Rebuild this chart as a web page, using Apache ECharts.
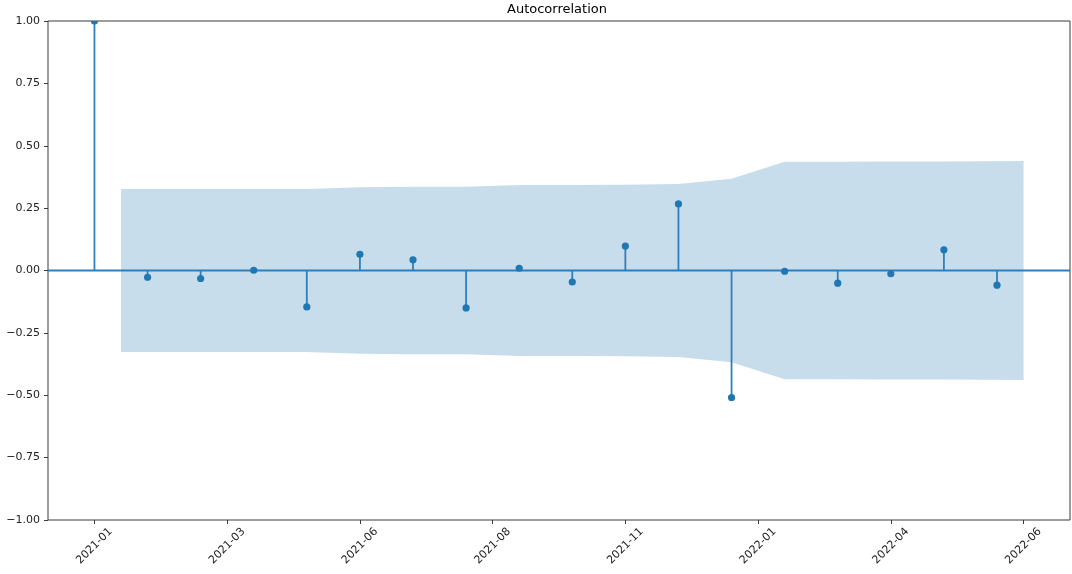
<!DOCTYPE html>
<html>
<head>
<meta charset="utf-8">
<script src="https://cdn.jsdelivr.net/npm/echarts@6/dist/echarts.min.js"></script>
<style>
  html, body { margin: 0; padding: 0; background: #fff; }
  #chart { width: 1072px; height: 574px; }
</style>
</head>
<body>
<div id="chart"></div>
<script>
// Autocorrelation values by lag
const lags = [0, 1, 2, 3, 4, 5, 6, 7, 8, 9, 10, 11, 12, 13, 14, 15, 16, 17];
const acfValues = [1.0, -0.027, -0.032, 0.001, -0.146, 0.065, 0.043, -0.150, 0.009, -0.046,
                   0.098, 0.267, -0.509, -0.003, -0.051, -0.013, 0.083, -0.059];

// Confidence band (upper edge; lower edge is its mirror)
const bandX = [0.5, 2, 3, 4, 5, 6, 7, 8, 9, 10, 11, 12, 13, 14, 15, 16, 17.5];
const bandUpper = [0.327, 0.327, 0.327, 0.327, 0.334, 0.336, 0.336, 0.343, 0.343, 0.344,
                   0.347, 0.368, 0.436, 0.436, 0.437, 0.437, 0.439];
const bandLower = [-0.327, -0.327, -0.327, -0.327, -0.334, -0.336, -0.336, -0.343, -0.343, -0.344,
                   -0.347, -0.368, -0.436, -0.436, -0.437, -0.437, -0.439];

// X tick positions and their labels
const xTickPositions = [0, 2.5, 5, 7.5, 10, 12.5, 15, 17.5];
const xTickLabels = ['2021-01', '2021-03', '2021-06', '2021-08', '2021-11', '2022-01', '2022-04', '2022-06'];

const X_MIN = -0.875, X_MAX = 18.375;
const BLUE = '#1f77b4';
const STEM = '#2f7fbb';
const FONT = 'DejaVu Sans';

const chart = echarts.init(document.getElementById('chart'), null, { renderer: 'canvas' });

const stemData = lags.map((l, i) => [l, acfValues[i]]);
const upperData = bandX.map((x, i) => [x, bandUpper[i]]);
const lowerData = bandX.map((x, i) => [x, bandLower[i]]);

chart.setOption({
  animation: false,
  backgroundColor: '#fff',
  title: {
    text: 'Autocorrelation',
    left: 507,
    top: 3,
    padding: 0,
    textStyle: { fontFamily: FONT, fontSize: 13, fontWeight: 'normal', color: '#000' }
  },
  grid: {
    left: 48, right: 2, top: 21, bottom: 54,
    show: true, borderColor: '#3a3a3a', borderWidth: 1, backgroundColor: 'transparent'
  },
  xAxis: {
    type: 'value',
    min: X_MIN, max: X_MAX,
    axisLine: { show: false, onZero: false },
    splitLine: { show: false },
    axisTick: {
      show: true, length: 4, inside: false,
      lineStyle: { color: '#3a3a3a', width: 1 },
      customValues: xTickPositions
    },
    axisLabel: {
      customValues: xTickPositions,
      rotate: 45,
      align: 'center',
      verticalAlign: 'middle',
      margin: 26,
      fontFamily: FONT, fontSize: 11, color: '#222',
      formatter: (v) => {
        const idx = xTickPositions.findIndex(p => Math.abs(p - v) < 1e-6);
        return idx >= 0 ? xTickLabels[idx] : '';
      }
    }
  },
  yAxis: {
    type: 'value',
    min: -1, max: 1, interval: 0.25,
    axisLine: { show: false, onZero: false },
    splitLine: { show: false },
    axisTick: { show: true, length: 4, inside: false, lineStyle: { color: '#3a3a3a', width: 1 } },
    axisLabel: {
      margin: 8,
      fontFamily: FONT, fontSize: 11, color: '#222',
      formatter: (v) => (v < 0 ? '\u2212' : '') + Math.abs(v).toFixed(2)
    }
  },
  series: [
    {
      // upper half of the confidence band, filled down to zero
      type: 'line',
      data: upperData,
      showSymbol: false,
      lineStyle: { width: 0 },
      areaStyle: { color: 'rgba(31,119,180,0.25)', opacity: 1 },
      z: 1,
      silent: true
    },
    {
      // lower half of the confidence band, filled up to zero
      type: 'line',
      data: lowerData,
      showSymbol: false,
      lineStyle: { width: 0 },
      areaStyle: { color: 'rgba(31,119,180,0.25)', opacity: 1 },
      z: 1,
      silent: true
    },
    {
      // horizontal line at zero
      type: 'line',
      data: [[X_MIN, 0], [X_MAX, 0]],
      showSymbol: false,
      lineStyle: { color: STEM, width: 2 },
      z: 2,
      silent: true
    },
    {
      // stems from zero to each value, with a marker at the tip (clipped to the plot)
      type: 'custom',
      data: stemData,
      z: 3,
      renderItem: (params, api) => {
        const x = api.value(0), y = api.value(1);
        const p0 = api.coord([x, 0]);
        const p1 = api.coord([x, y]);
        const cs = params.coordSys;
        return {
          type: 'group',
          clipPath: { type: 'rect', shape: { x: cs.x, y: cs.y, width: cs.width, height: cs.height } },
          children: [
            {
              type: 'line',
              shape: { x1: p0[0], y1: p0[1], x2: p1[0], y2: p1[1] },
              style: { stroke: STEM, lineWidth: 1.8 }
            },
            {
              type: 'circle',
              shape: { cx: p1[0], cy: p1[1], r: 3.6 },
              style: { fill: BLUE }
            }
          ]
        };
      }
    }
  ]
});
</script>
</body>
</html>
